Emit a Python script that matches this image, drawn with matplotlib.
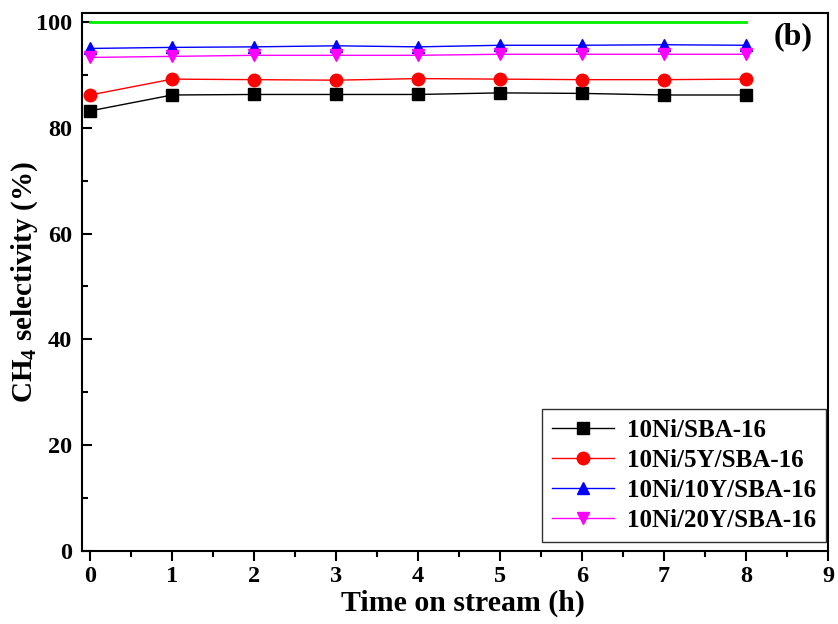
import matplotlib
matplotlib.use('Agg')
import matplotlib.pyplot as plt
from matplotlib.ticker import MultipleLocator

plt.rcParams['font.family'] = 'Liberation Serif'
plt.rcParams['font.weight'] = 'bold'

time_h = [0, 1, 2, 3, 4, 5, 6, 7, 8]
ni_sba = [83.2, 86.2, 86.3, 86.3, 86.3, 86.6, 86.5, 86.2, 86.2]
ni_5y = [86.2, 89.2, 89.1, 89.0, 89.3, 89.2, 89.1, 89.1, 89.2]
ni_10y = [95.0, 95.2, 95.3, 95.5, 95.3, 95.6, 95.6, 95.7, 95.6]
ni_20y = [93.3, 93.5, 93.7, 93.7, 93.7, 93.9, 93.9, 93.9, 93.9]
equilibrium = [100] * len(time_h)

series = [
    ('10Ni/SBA-16', ni_sba, 'black', 's'),
    ('10Ni/5Y/SBA-16', ni_5y, 'red', 'o'),
    ('10Ni/10Y/SBA-16', ni_10y, 'blue', '^'),
    ('10Ni/20Y/SBA-16', ni_20y, 'magenta', 'v'),
]

fig = plt.figure(figsize=(8.38, 6.24), dpi=100)
ax = fig.add_axes([82/838, 1-551/624, (828-82)/838, (551-13)/624])

ax.plot(time_h, equilibrium, color='#00ee00', lw=2)
for name, vals, col, mk in series:
    ax.plot(time_h, vals, color=col, marker=mk, markersize=9, lw=1, label=name)

ax.set_xlim(-0.1, 9)
ax.set_ylim(0, 101.7)
ax.xaxis.set_major_locator(MultipleLocator(1))
ax.xaxis.set_minor_locator(MultipleLocator(0.5))
ax.yaxis.set_major_locator(MultipleLocator(20))
ax.yaxis.set_minor_locator(MultipleLocator(10))
ax.tick_params(axis='x', which='major', direction='out', length=7, width=1.5, labelsize=17.5, pad=4)
ax.tick_params(axis='x', which='minor', direction='out', length=4, width=1.5)
ax.tick_params(axis='y', which='major', direction='in', length=7, width=1.5, labelsize=17.5, pad=7)
ax.tick_params(axis='y', which='minor', direction='in', length=4, width=1.5)
for s in ax.spines.values():
    s.set_linewidth(1.5)

ax.set_xlabel('Time on stream (h)', fontsize=21.5, fontweight='bold', labelpad=2, x=0.511)
ax.set_ylabel(r'CH$_\mathregular{4}$ selectivity (%)', fontsize=21, fontweight='bold', labelpad=-3)
ax.text(0.979, 0.955, '(b)', transform=ax.transAxes, fontsize=23, fontweight='bold',
        ha='right', va='center')

leg = ax.legend(loc='lower right', bbox_to_anchor=(0.999, 8/538), fontsize=18, frameon=True,
                fancybox=False, edgecolor='black', handlelength=2.5, borderaxespad=0.05,
                labelspacing=0.28, borderpad=0.4, handletextpad=0.5)
leg.get_frame().set_linewidth(1)

fig.savefig('out.png', dpi=100)
